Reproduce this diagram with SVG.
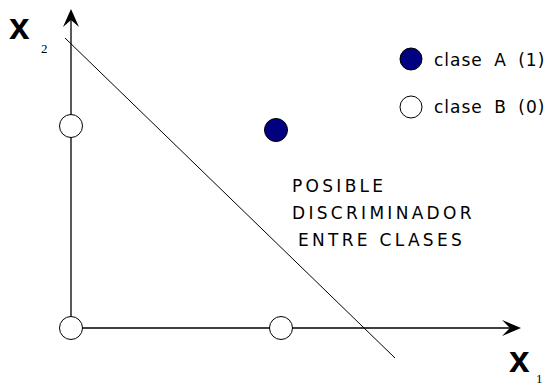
<svg xmlns="http://www.w3.org/2000/svg" width="549" height="387" viewBox="0 0 549 387">
<style>
.ax{stroke:#000;stroke-width:1.3;fill:none}
.ln{stroke:#000;stroke-width:1;fill:none}
.wc{fill:#fff;stroke:#000;stroke-width:1}
.bc{fill:#000080;stroke:#000;stroke-width:1}
.lbl{font-family:"DejaVu Sans",sans-serif;font-size:17px;fill:#000}
.big{font-family:"Liberation Sans",Arial,sans-serif;font-weight:bold;font-size:37px;fill:#000}
.sub{font-family:"Liberation Serif","Times New Roman",serif;font-size:13px;fill:#000}
</style>
<rect width="549" height="387" fill="#fff"/>
<g id="connectors">
<line class="ax" x1="71" y1="328" x2="71" y2="18"/>
<path d="M71,9 L79,27 L71,20 L63,27 Z" fill="#000"/>
<line class="ax" x1="71" y1="328" x2="512" y2="328"/>
<path d="M521,328 L502,320 L510,328 L502,336 Z" fill="#000"/>
<line class="ln" x1="65" y1="38" x2="395" y2="358"/>
</g>
<g id="axis-labels">
<text class="big" x="9" y="39">x</text>
<text class="sub" x="41" y="53">2</text>
<text class="big" x="509" y="372">x</text>
<text class="sub" x="536" y="383">1</text>
</g>
<g id="node-b1"><circle class="wc" cx="71" cy="126" r="11.5"/></g>
<g id="node-b2"><circle class="wc" cx="71" cy="328" r="11.5"/></g>
<g id="node-b3"><circle class="wc" cx="281" cy="328" r="11.5"/></g>
<g id="node-a1"><circle class="bc" cx="276" cy="130" r="11.5"/></g>
<g id="legend">
<circle class="bc" cx="411" cy="59" r="11"/>
<text class="lbl" x="434" y="66" style="letter-spacing:1px;word-spacing:5px">clase A (1)</text>
<circle class="wc" cx="411" cy="107" r="11"/>
<text class="lbl" x="434" y="113" style="letter-spacing:1px;word-spacing:5px">clase B (0)</text>
</g>
<g id="discriminator-label">
<text class="lbl" x="292" y="192" style="letter-spacing:3.3px">POSIBLE</text>
<text class="lbl" x="292" y="219" style="letter-spacing:3.3px">DISCRIMINADOR</text>
<text class="lbl" x="298" y="246" style="letter-spacing:3.3px">ENTRE CLASES</text>
</g>
</svg>
